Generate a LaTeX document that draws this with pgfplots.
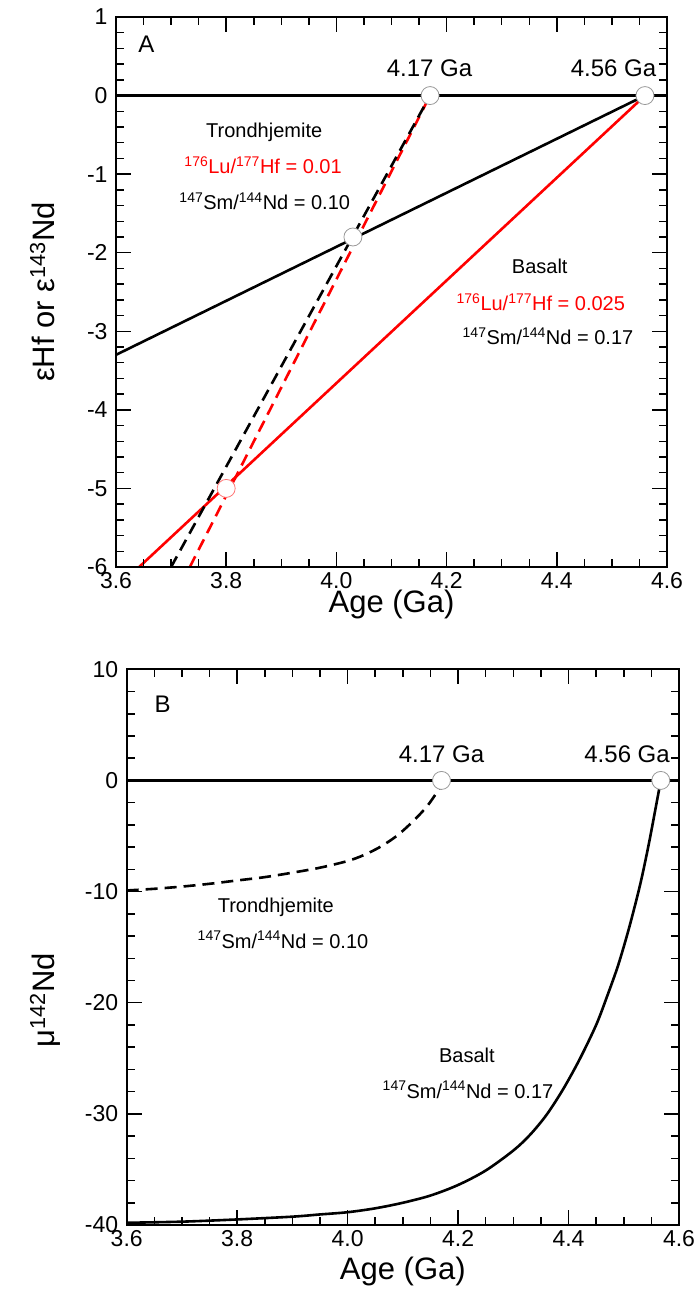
\documentclass[border=0pt]{standalone}
\usepackage{fontspec}
\setmainfont{Liberation Sans}
\usepackage{pgfplots}
\pgfplotsset{compat=1.18}
\newcommand{\tfont}{\fontsize{20}{24}\selectfont}
\pgfplotsset{
  myax/.style={
    scale only axis,
    xmin=3.6, xmax=4.6,
    xtick={3.6,3.8,4.0,4.2,4.4,4.6},
    minor x tick num=3,
    minor y tick num=4,
    tick align=inside, major tick length=15pt, minor tick length=8pt,
    every tick/.style={line width=1.5pt, black},
    axis line style={line width=1.7pt},
    /pgf/number format/assume math mode=true,
    tick label style={font=\fontsize{23}{23}\selectfont},
    xticklabel style={/pgf/number format/.cd, fixed, fixed zerofill, precision=1, /tikz/.cd, yshift=-2pt},
    yticklabel style={xshift=-5pt},
    label style={font=\fontsize{31}{31}\selectfont},
    xlabel={Age (Ga)},
    clip=true,
    axis on top,
  },
  circ/.style={only marks, mark=*, mark size=9pt, mark options={fill=white, draw=black!40, line width=0.8pt}},
}
\begin{document}
\begin{tikzpicture}
\path (0,0) rectangle (698pt,1299pt);
% ---------- Panel A ----------
\begin{axis}[myax,
  at={(116pt,732pt)}, anchor=south west,
  width=551pt, height=550pt,
  ymin=-6, ymax=1, ytick={-6,-5,-4,-3,-2,-1,0,1},
  xlabel style={at={(axis description cs:0.5,-0.069)}, anchor=center},
  ylabel={εHf or ε\textsuperscript{143}Nd},
  ylabel style={at={(axis description cs:-0.134,0.5)}, anchor=center},
]
\addplot[black, line width=2.6pt] coordinates {(3.6,0) (4.6,0)};
\addplot[black, line width=2.6pt] coordinates {(3.6,-3.3) (4.56,0)};
\addplot[red, line width=2.6pt] coordinates {(3.642,-6) (4.56,0)};
\addplot[red, line width=2.6pt, dash pattern=on 12pt off 7pt] coordinates {(3.734,-6) (4.17,0)};
\addplot[black, line width=2.6pt, dash pattern=on 12pt off 7pt] coordinates {(3.700,-6) (4.17,0)};
\addplot[circ] coordinates {(4.17,0) (4.56,0) (4.03,-1.8)};
\addplot[circ, mark options={fill=white, draw=red!55, line width=0.8pt}] coordinates {(3.8,-5)};
\node[anchor=base, font=\fontsize{24}{24}\selectfont] at (axis cs:3.655,0.542) {A};
\node[anchor=base, font=\fontsize{24}{24}\selectfont] at (axis cs:4.169,0.249) {4.17 Ga};
\node[anchor=base, font=\fontsize{24}{24}\selectfont] at (axis cs:4.503,0.249) {4.56 Ga};
\node[anchor=base, font=\tfont] at (axis cs:3.869,-0.531) {Trondhjemite};
\node[anchor=base, font=\tfont, text=red] at (axis cs:3.867,-0.998) {\textsuperscript{176}Lu/\textsuperscript{177}Hf = 0.01};
\node[anchor=base, font=\tfont] at (axis cs:3.870,-1.456) {\textsuperscript{147}Sm/\textsuperscript{144}Nd = 0.10};
\node[anchor=base, font=\tfont] at (axis cs:4.369,-2.262) {Basalt};
\node[anchor=base, font=\tfont, text=red] at (axis cs:4.371,-2.738) {\textsuperscript{176}Lu/\textsuperscript{177}Hf = 0.025};
\node[anchor=base, font=\tfont] at (axis cs:4.384,-3.174) {\textsuperscript{147}Sm/\textsuperscript{144}Nd = 0.17};
\end{axis}
% ---------- Panel B ----------
\begin{axis}[myax,
  at={(126.7pt,74pt)}, anchor=south west,
  width=552.3pt, height=555.7pt,
  ymin=-40, ymax=10, ytick={-40,-30,-20,-10,0,10},
  xlabel style={at={(axis description cs:0.5,-0.083)}, anchor=center},
  ylabel={μ\textsuperscript{142}Nd},
  ylabel style={at={(axis description cs:-0.148,0.405)}, anchor=center},
]
\addplot[black, line width=2.6pt] coordinates {(3.6,0) (4.6,0)};
\addplot[black, line width=2.6pt, dash pattern=on 12pt off 7pt, smooth] coordinates {
 (3.60,-9.9) (3.65,-9.75) (3.70,-9.55) (3.75,-9.3) (3.80,-9.0) (3.85,-8.7)
 (3.90,-8.3) (3.95,-7.85) (4.00,-7.25) (4.03,-6.7) (4.06,-5.95) (4.09,-4.95)
 (4.12,-3.6) (4.145,-2.25) (4.168,-0.6)};
\addplot[black, line width=2.6pt, smooth] coordinates {
 (3.60,-39.8) (3.70,-39.7) (3.80,-39.5) (3.90,-39.25) (3.95,-39.05) (4.00,-38.85)
 (4.05,-38.5) (4.10,-38.0) (4.15,-37.35) (4.20,-36.4) (4.25,-35.1) (4.30,-33.3)
 (4.33,-31.9) (4.36,-30.1) (4.39,-27.8) (4.42,-25.1) (4.45,-22.0) (4.47,-19.4)
 (4.49,-16.6) (4.51,-13.2) (4.53,-9.3) (4.545,-5.8) (4.558,-2.4) (4.567,0)};
\addplot[circ] coordinates {(4.17,0) (4.567,0)};
\node[anchor=base, font=\fontsize{24}{24}\selectfont] at (axis cs:3.665,6.09) {B};
\node[anchor=base, font=\fontsize{24}{24}\selectfont] at (axis cs:4.170,1.59) {4.17 Ga};
\node[anchor=base, font=\fontsize{24}{24}\selectfont] at (axis cs:4.506,1.59) {4.56 Ga};
\node[anchor=base, font=\tfont] at (axis cs:3.870,-11.85) {Trondhjemite};
\node[anchor=base, font=\tfont] at (axis cs:3.883,-15.1) {\textsuperscript{147}Sm/\textsuperscript{144}Nd = 0.10};
\node[anchor=base, font=\tfont] at (axis cs:4.216,-25.4) {Basalt};
\node[anchor=base, font=\tfont] at (axis cs:4.218,-28.6) {\textsuperscript{147}Sm/\textsuperscript{144}Nd = 0.17};
\end{axis}
\end{tikzpicture}
\end{document}
